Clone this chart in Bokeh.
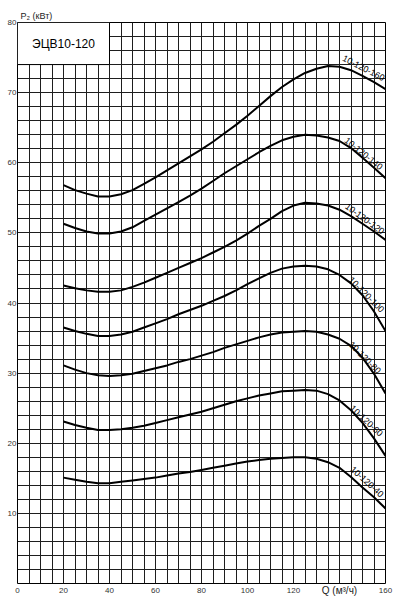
import math
from bokeh.plotting import figure
from bokeh.models import Label, FixedTicker, Range1d, LinearAxis
from bokeh.embed import file_html
from bokeh.resources import INLINE
from bokeh.core.properties import value

# Flow Q (m3/h) sample positions
Q = [20, 25, 30, 35, 40, 45, 50, 55, 60, 65, 70, 75, 80, 85, 90, 95, 100,
     105, 110, 115, 120, 125, 130, 135, 140, 145, 150, 155, 160]

# Power P2 (kW) for each pump model
P_160 = [56.8, 56.1, 55.6, 55.2, 55.2, 55.5, 56.1, 57.0, 57.9, 58.9, 59.9, 60.9, 61.9,
         63.0, 64.2, 65.4, 66.7, 68.1, 69.5, 70.8, 71.9, 72.8, 73.4, 73.8, 73.7, 73.2, 72.4, 71.5, 70.5]
P_140 = [51.3, 50.7, 50.2, 49.9, 49.9, 50.2, 50.8, 51.7, 52.6, 53.5, 54.4, 55.3, 56.3,
         57.4, 58.5, 59.5, 60.5, 61.5, 62.4, 63.2, 63.7, 64.0, 63.9, 63.6, 63.1, 62.1, 60.7, 59.3, 57.8]
P_120 = [42.5, 42.1, 41.8, 41.6, 41.6, 41.8, 42.3, 42.9, 43.6, 44.3, 45.0, 45.7, 46.4,
         47.2, 48.0, 48.9, 49.9, 51.0, 52.0, 53.1, 53.9, 54.3, 54.2, 53.9, 53.3, 52.4, 51.3, 50.2, 49.0]
P_100 = [36.5, 36.0, 35.6, 35.3, 35.3, 35.5, 35.9, 36.5, 37.1, 37.7, 38.4, 39.0, 39.6,
         40.3, 41.0, 41.8, 42.7, 43.5, 44.3, 44.9, 45.2, 45.3, 45.2, 44.8, 44.0, 42.8, 41.1, 38.8, 36.0]
P_80 = [31.1, 30.5, 30.0, 29.7, 29.6, 29.7, 29.9, 30.3, 30.7, 31.1, 31.6, 32.0, 32.5,
        33.0, 33.6, 34.1, 34.6, 35.1, 35.5, 35.8, 35.9, 36.0, 35.9, 35.5, 34.9, 33.9, 32.2, 29.9, 27.1]
P_60 = [23.1, 22.6, 22.2, 21.9, 21.9, 22.0, 22.2, 22.5, 22.9, 23.3, 23.7, 24.1, 24.5,
        25.0, 25.5, 26.0, 26.4, 26.8, 27.1, 27.4, 27.5, 27.6, 27.5, 27.0, 26.1, 24.7, 22.9, 20.7, 18.2]
P_40 = [15.1, 14.8, 14.5, 14.3, 14.3, 14.5, 14.7, 14.9, 15.1, 15.4, 15.7, 15.9, 16.2,
        16.5, 16.8, 17.1, 17.4, 17.6, 17.8, 17.9, 18.0, 18.0, 17.8, 17.3, 16.5, 15.2, 13.7, 12.3, 10.7]

series = [P_160, P_140, P_120, P_100, P_80, P_60, P_40]

curve_labels = ["10-120-160", "10-120-140", "10-120-120", "10-120-100",
                "10-120-80", "10-120-60", "10-120-40"]
label_q = [150.5, 150.5, 151.0, 151.7, 151.0, 151.7, 152.0]
label_p = [73.5, 61.3, 52.0, 41.2, 32.2, 23.2, 14.5]
label_angle_deg = [-27, -39, -36, -45, -45, -43, -42]

x_ticks = [0, 20, 40, 60, 80, 100, 120, 160]
x_title_tick = 140
y_ticks = [10, 20, 30, 40, 50, 60, 70, 80]
x_grid_step = 5
y_grid_step = 2

title_text = "ЭЦВ10-120"
title_box = dict(left=0, right=40, bottom=74, top=80)
y_axis_title = "P₂ (кВт)"
x_axis_title = "Q (м³/ч)"

FONT = "Liberation Sans"

p = figure(width=395, height=599, x_range=Range1d(0, 160), y_range=Range1d(0, 80),
           output_backend="svg", toolbar_location=None,
           min_border_left=17, min_border_right=10, min_border_top=22, min_border_bottom=16)

p.title.text = y_axis_title
p.title.align = "left"
p.title.text_font = FONT
p.title.text_font_size = "9px"
p.title.text_font_style = "normal"
p.title.text_color = "#222222"
p.title.offset = 3
p.title.standoff = 3

p.outline_line_color = "black"
p.outline_line_width = 1
p.background_fill_color = "white"
p.border_fill_color = "white"

p.xgrid.ticker = FixedTicker(ticks=list(range(0, 161, x_grid_step)))
p.ygrid.ticker = FixedTicker(ticks=list(range(0, 81, y_grid_step)))
for g in (p.xgrid, p.ygrid):
    g.grid_line_color = "#1e1e1e"
    g.grid_line_width = 1
    g.grid_line_alpha = 1.0

p.xaxis.ticker = FixedTicker(ticks=x_ticks)
p.yaxis.ticker = FixedTicker(ticks=y_ticks)

q_axis = LinearAxis(ticker=FixedTicker(ticks=[x_title_tick]),
                    major_label_overrides={x_title_tick: x_axis_title})
p.add_layout(q_axis, "below")

for ax in (p.xaxis[0], p.yaxis[0], q_axis):
    ax.axis_line_color = None
    ax.major_tick_line_color = None
    ax.minor_tick_line_color = None
    ax.major_tick_out = 0
    ax.major_tick_in = 0
    ax.major_label_text_font = FONT
    ax.major_label_text_font_size = "8px"
    ax.major_label_text_color = "#333333"
p.xaxis[0].major_label_standoff = 4
p.yaxis[0].major_label_standoff = 1
q_axis.major_label_text_font_size = "10px"
q_axis.major_label_text_color = "#222222"
q_axis.major_label_standoff = -11

# title box
p.quad(left=[title_box["left"]], right=[title_box["right"]],
       bottom=[title_box["bottom"]], top=[title_box["top"]],
       fill_color="white", line_color="black", line_width=1)

for s in series:
    p.line(Q, s, line_color="black", line_width=2)

p.text(x=label_q, y=label_p, text=curve_labels,
       angle=[math.radians(a) for a in label_angle_deg],
       text_font=value(FONT), text_font_size="9px",
       text_align="center", text_baseline="middle", text_color="black")

p.add_layout(Label(x=20, y=77, text=title_text, text_font=FONT, text_font_size="12px",
                   text_align="center", text_baseline="middle", text_color="black"))

open("out.html", "w").write(file_html(p, INLINE))
